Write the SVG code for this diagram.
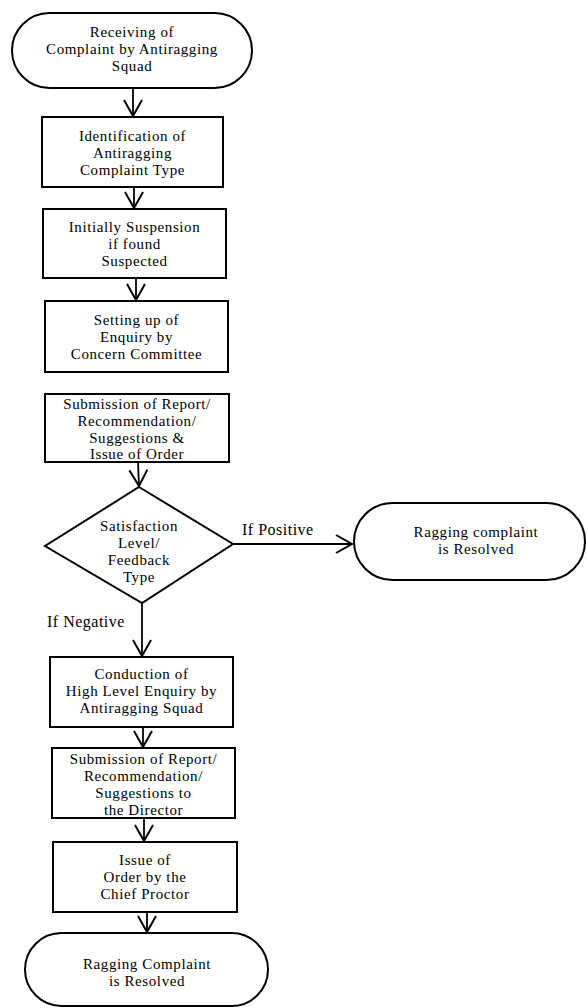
<svg xmlns="http://www.w3.org/2000/svg" width="587" height="1008" viewBox="0 0 587 1008">
<style>
.s{fill:#fff;stroke:#000;stroke-width:2}
.t{font-family:"Liberation Serif","Times New Roman",serif;font-size:15px;letter-spacing:0.6px;fill:#000;text-anchor:middle}
.l{font-family:"Liberation Serif","Times New Roman",serif;font-size:16px;letter-spacing:0.5px;fill:#000}
.c{stroke:#000;stroke-width:1.8;fill:none;marker-end:url(#arr)}
</style>
<defs>
<marker id="arr" markerUnits="userSpaceOnUse" markerWidth="20" markerHeight="20" viewBox="0 0 20 20" refX="17" refY="10" orient="auto">
<path d="M1,1 L17,10 L1,19" fill="none" stroke="#000" stroke-width="2"/>
</marker>
</defs>
<rect width="587" height="1008" fill="#fff"/>
<g id="connectors">
<line class="c" x1="133" y1="88" x2="133" y2="116"/>
<line class="c" x1="134" y1="187" x2="134" y2="208"/>
<line class="c" x1="136" y1="278" x2="136" y2="300"/>
<line class="c" x1="138" y1="462" x2="139" y2="486"/>
<line class="c" x1="233" y1="544" x2="352" y2="544"/>
<line class="c" x1="142" y1="603" x2="142" y2="656"/>
<line class="c" x1="143" y1="727" x2="143" y2="747"/>
<line class="c" x1="144" y1="818" x2="144" y2="841"/>
<line class="c" x1="147" y1="912" x2="147" y2="932"/>
<text class="l" x="242" y="535">If Positive</text>
<text class="l" x="47" y="627">If Negative</text>
</g>
<g id="n1">
<rect class="s" x="12" y="13" width="240" height="75" rx="37.5"/>
<text class="t" x="132" y="37">Receiving of</text>
<text class="t" x="132" y="54">Complaint by Antiragging</text>
<text class="t" x="132" y="71">Squad</text>
</g>
<g id="n2">
<rect class="s" x="42" y="117" width="181" height="70"/>
<text class="t" x="132.5" y="141">Identification of</text>
<text class="t" x="132.5" y="158">Antiragging</text>
<text class="t" x="132.5" y="175">Complaint Type</text>
</g>
<g id="n3">
<rect class="s" x="43" y="209" width="183" height="69"/>
<text class="t" x="134.5" y="232">Initially Suspension</text>
<text class="t" x="134.5" y="249">if found</text>
<text class="t" x="134.5" y="266">Suspected</text>
</g>
<g id="n4">
<rect class="s" x="45" y="301" width="183" height="71"/>
<text class="t" x="136.5" y="325">Setting up of</text>
<text class="t" x="136.5" y="342">Enquiry by</text>
<text class="t" x="136.5" y="359">Concern Committee</text>
</g>
<g id="n5">
<rect class="s" x="45" y="394" width="184" height="68"/>
<text class="t" x="137" y="409">Submission of Report/</text>
<text class="t" x="137" y="426">Recommendation/</text>
<text class="t" x="137" y="443">Suggestions &amp;</text>
<text class="t" x="137" y="459">Issue of Order</text>
</g>
<g id="d1">
<polygon class="s" points="139,487 233,544 142,603 45,546"/>
<text class="t" x="139" y="531">Satisfaction</text>
<text class="t" x="139" y="548">Level/</text>
<text class="t" x="139" y="565">Feedback</text>
<text class="t" x="139" y="582">Type</text>
</g>
<g id="r1">
<rect class="s" x="354" y="503" width="231" height="77" rx="38.5"/>
<text class="t" x="476" y="537">Ragging complaint</text>
<text class="t" x="476" y="554">is Resolved</text>
</g>
<g id="n6">
<rect class="s" x="50" y="657" width="183" height="70"/>
<text class="t" x="141.5" y="679">Conduction of</text>
<text class="t" x="141.5" y="696">High Level Enquiry by</text>
<text class="t" x="141.5" y="713">Antiragging Squad</text>
</g>
<g id="n7">
<rect class="s" x="52" y="748" width="183" height="70"/>
<text class="t" x="143.5" y="764">Submission of Report/</text>
<text class="t" x="143.5" y="781">Recommendation/</text>
<text class="t" x="143.5" y="798">Suggestions to</text>
<text class="t" x="143.5" y="815">the Director</text>
</g>
<g id="n8">
<rect class="s" x="53" y="842" width="184" height="70"/>
<text class="t" x="145" y="865">Issue of</text>
<text class="t" x="145" y="882">Order by the</text>
<text class="t" x="145" y="899">Chief Proctor</text>
</g>
<g id="r2">
<rect class="s" x="25" y="933" width="243" height="73" rx="36.5"/>
<text class="t" x="147" y="969">Ragging Complaint</text>
<text class="t" x="147" y="986">is Resolved</text>
</g>
</svg>
